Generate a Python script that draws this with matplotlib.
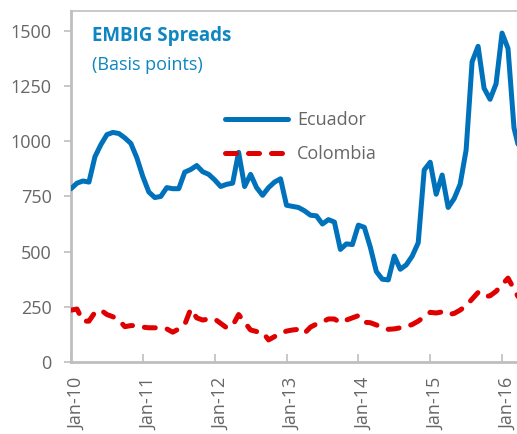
import numpy as np
import matplotlib.pyplot as plt
import matplotlib.transforms as mtransforms

plt.rcParams['font.family'] = ['Open Sans', 'DejaVu Sans']

# monthly observations, Jan-2010 .. Apr-2016 (month index 0 = Jan-10)
ecuador = [785, 810, 820, 815, 930, 985, 1030, 1040, 1035, 1015, 990, 925,
           840, 770, 745, 750, 790, 785, 785, 860, 872, 890, 862, 850,
           825, 795, 805, 810, 950, 795, 850, 790, 755, 790, 815, 830,
           710, 705, 700, 685, 665, 662, 625, 645, 634, 510, 535, 532,
           620, 610, 520, 410, 375, 372, 480, 420, 440, 480, 540, 870,
           905, 760, 847, 700, 740, 805, 960, 1360, 1430, 1240, 1190, 1260,
           1490, 1420, 1060, 950]
colombia = [235, 240, 185, 185, 225, 235, 215, 205, 190, 160, 165, 165,
            158, 155, 155, 155, 150, 135, 150, 170, 240, 200, 190, 195,
            195, 175, 155, 165, 215, 180, 145, 138, 136, 100, 115, 130,
            140, 145, 148, 130, 158, 172, 182, 195, 195, 178, 190, 200,
            210, 180, 178, 168, 155, 148, 150, 155, 160, 170, 185, 205,
            225, 222, 227, 215, 220, 235, 255, 285, 315, 295, 300, 320,
            350, 380, 330, 280]
months = np.arange(len(ecuador))

xtick_pos = [0, 12, 24, 36, 48, 60, 72]
xtick_labels = ['Jan-10', 'Jan-11', 'Jan-12', 'Jan-13', 'Jan-14', 'Jan-15', 'Jan-16']
ytick_pos = [0, 250, 500, 750, 1000, 1250, 1500]

grey = '#BFBFBF'
text_grey = '#666666'
blue = '#0072BC'
red = '#E00000'
title_blue = '#0E86C1'

fig = plt.figure(figsize=(5.17, 4.34), dpi=100)
ax = fig.add_axes([71 / 517, 72 / 434, 1 - 71 / 517, 351 / 434])

ax.plot(months, ecuador, color=blue, lw=3.6, solid_joinstyle='round',
        solid_capstyle='round', label='Ecuador', zorder=3)
ax.plot(months, colombia, color=red, lw=3.6, linestyle=(0, (2.2, 2.4)),
        dash_capstyle='round', dash_joinstyle='round', label='Colombia', zorder=3)

ax.set_xlim(0, 74.5)
ax.set_ylim(0, 1590)

ax.set_yticks(ytick_pos)
ax.set_xticks(xtick_pos)
ax.set_xticklabels(xtick_labels, rotation=90)

ax.tick_params(axis='y', direction='out', length=5, width=1.2, color=grey,
               labelsize=13, labelcolor=text_grey, pad=9)
ax.tick_params(axis='x', direction='in', length=6, width=1.2, color=grey,
               labelsize=13, labelcolor=text_grey, pad=11)

# nudge the rotated date labels a bit right, like the original
shift = mtransforms.ScaledTranslation(6 / 100, 0, fig.dpi_scale_trans)
for lbl in ax.get_xticklabels():
    lbl.set_transform(lbl.get_transform() + shift)

for side in ['left', 'bottom']:
    ax.spines[side].set_color(grey)
    ax.spines[side].set_linewidth(2)
ax.spines['top'].set_color(grey)
ax.spines['top'].set_linewidth(1.2)
ax.spines['right'].set_visible(False)

ax.text(0.047, 0.958, 'EMBIG Spreads', transform=ax.transAxes, fontsize=13.5,
        fontweight='bold', color=title_blue, va='top', ha='left')
ax.text(0.047, 0.872, '(Basis points)', transform=ax.transAxes, fontsize=13,
        color=title_blue, va='top', ha='left')

leg = ax.legend(loc='upper left', bbox_to_anchor=(0.345, 0.715), frameon=False,
                fontsize=13, handlelength=3.5, handletextpad=0.5,
                labelspacing=0.9, borderpad=0, borderaxespad=0)
for t in leg.get_texts():
    t.set_color(text_grey)

fig.savefig('out.png', dpi=100)
